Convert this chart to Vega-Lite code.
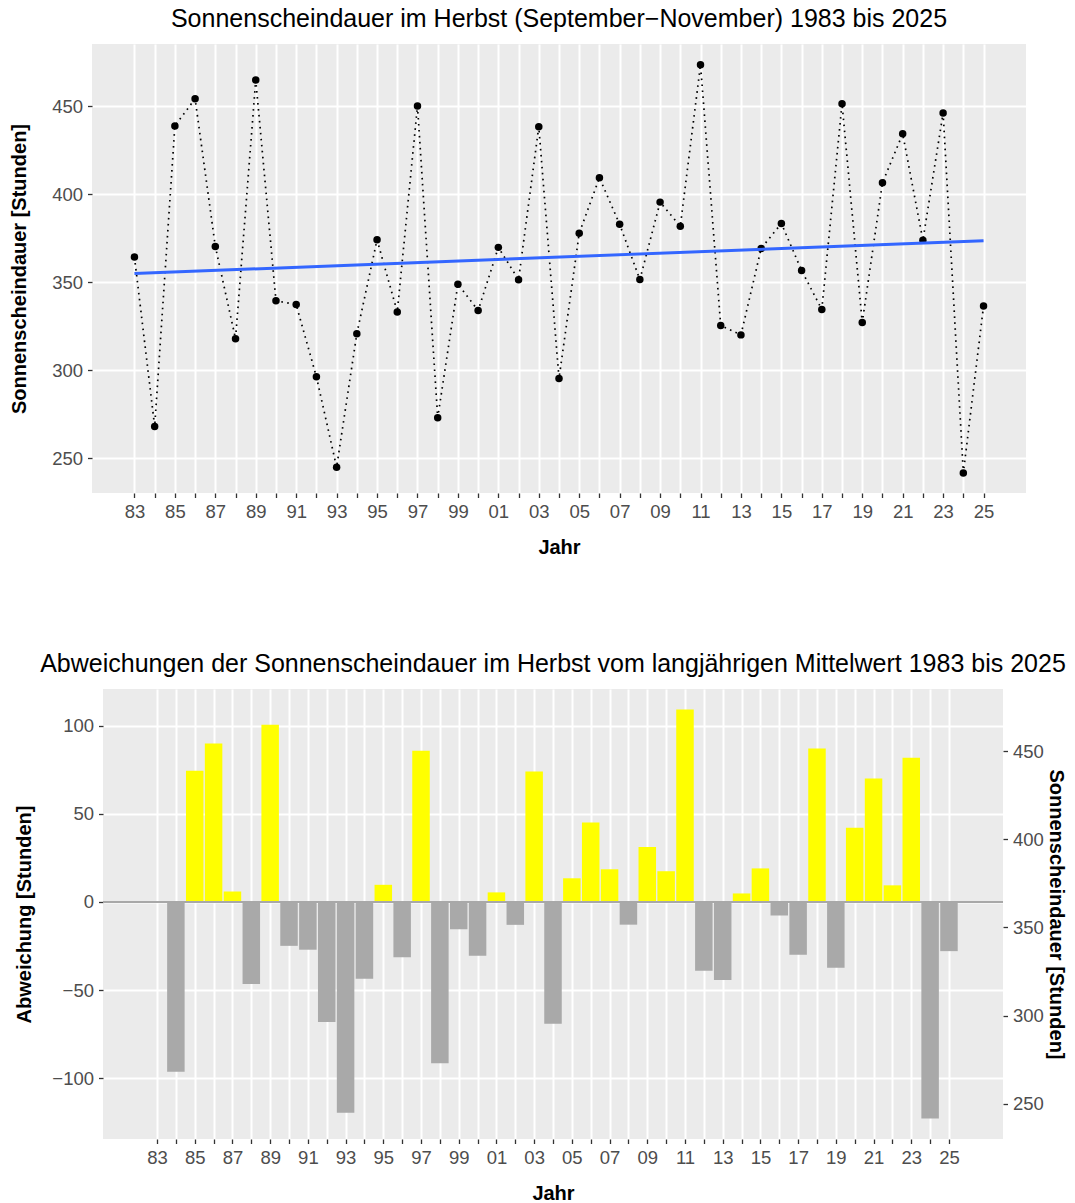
{
  "$schema": "https://vega.github.io/schema/vega-lite/v6.json",
  "padding": {"left": 9, "top": 7, "right": 0, "bottom": 5},
  "background": "white",
  "config": {
    "font": "Liberation Sans",
    "view": {"fill": "#EBEBEB", "stroke": null},
    "title": {"font": "Liberation Sans", "fontSize": 25, "fontWeight": "normal", "color": "black", "anchor": "middle", "offset": 12},
    "axis": {
      "labelFont": "Liberation Sans", "labelFontSize": 18.5, "labelColor": "#4D4D4D",
      "titleFont": "Liberation Sans", "titleFontSize": 20, "titleFontWeight": "bold", "titleColor": "black",
      "tickColor": "#333333", "tickSize": 4.5, "tickWidth": 1.3, "domain": false,
      "gridColor": "white", "gridWidth": 2, "labelPadding": 5
    }
  },
  "data": {"values": [
    {"Jahr": 1983, "Stunden": 364.4, "Abweichung": -0.1},
    {"Jahr": 1984, "Stunden": 268.2, "Abweichung": -96.3},
    {"Jahr": 1985, "Stunden": 438.9, "Abweichung": 74.4},
    {"Jahr": 1986, "Stunden": 454.3, "Abweichung": 89.8},
    {"Jahr": 1987, "Stunden": 370.4, "Abweichung": 5.9},
    {"Jahr": 1988, "Stunden": 318.0, "Abweichung": -46.5},
    {"Jahr": 1989, "Stunden": 465.0, "Abweichung": 100.5},
    {"Jahr": 1990, "Stunden": 339.6, "Abweichung": -24.9},
    {"Jahr": 1991, "Stunden": 337.4, "Abweichung": -27.1},
    {"Jahr": 1992, "Stunden": 296.4, "Abweichung": -68.1},
    {"Jahr": 1993, "Stunden": 245.0, "Abweichung": -119.5},
    {"Jahr": 1994, "Stunden": 320.9, "Abweichung": -43.6},
    {"Jahr": 1995, "Stunden": 374.2, "Abweichung": 9.7},
    {"Jahr": 1996, "Stunden": 333.2, "Abweichung": -31.3},
    {"Jahr": 1997, "Stunden": 450.2, "Abweichung": 85.7},
    {"Jahr": 1998, "Stunden": 273.1, "Abweichung": -91.4},
    {"Jahr": 1999, "Stunden": 349.0, "Abweichung": -15.5},
    {"Jahr": 2000, "Stunden": 334.0, "Abweichung": -30.5},
    {"Jahr": 2001, "Stunden": 369.9, "Abweichung": 5.4},
    {"Jahr": 2002, "Stunden": 351.5, "Abweichung": -13.0},
    {"Jahr": 2003, "Stunden": 438.4, "Abweichung": 73.9},
    {"Jahr": 2004, "Stunden": 295.4, "Abweichung": -69.1},
    {"Jahr": 2005, "Stunden": 377.9, "Abweichung": 13.4},
    {"Jahr": 2006, "Stunden": 409.5, "Abweichung": 45.0},
    {"Jahr": 2007, "Stunden": 383.0, "Abweichung": 18.5},
    {"Jahr": 2008, "Stunden": 351.6, "Abweichung": -12.9},
    {"Jahr": 2009, "Stunden": 395.6, "Abweichung": 31.1},
    {"Jahr": 2010, "Stunden": 381.9, "Abweichung": 17.4},
    {"Jahr": 2011, "Stunden": 473.6, "Abweichung": 109.1},
    {"Jahr": 2012, "Stunden": 325.5, "Abweichung": -39.0},
    {"Jahr": 2013, "Stunden": 320.2, "Abweichung": -44.3},
    {"Jahr": 2014, "Stunden": 369.3, "Abweichung": 4.8},
    {"Jahr": 2015, "Stunden": 383.5, "Abweichung": 19.0},
    {"Jahr": 2016, "Stunden": 356.8, "Abweichung": -7.7},
    {"Jahr": 2017, "Stunden": 334.6, "Abweichung": -29.9},
    {"Jahr": 2018, "Stunden": 451.5, "Abweichung": 87.0},
    {"Jahr": 2019, "Stunden": 327.2, "Abweichung": -37.3},
    {"Jahr": 2020, "Stunden": 406.6, "Abweichung": 42.1},
    {"Jahr": 2021, "Stunden": 434.4, "Abweichung": 69.9},
    {"Jahr": 2022, "Stunden": 373.9, "Abweichung": 9.4},
    {"Jahr": 2023, "Stunden": 446.2, "Abweichung": 81.7},
    {"Jahr": 2024, "Stunden": 241.7, "Abweichung": -122.8},
    {"Jahr": 2025, "Stunden": 336.6, "Abweichung": -27.9}
  ]},
  "vconcat": [
    {"hconcat": [
      {
        "width": 934,
        "height": 449,
        "title": {"text": "Sonnenscheindauer im Herbst (September\u2212November) 1983 bis 2025"},
        "encoding": {
          "x": {
            "field": "Jahr", "type": "quantitative",
            "scale": {"domain": [1980.9, 2027.1], "nice": false, "zero": false},
            "axis": {
              "title": "Jahr", "titlePadding": 16,
              "values": [1983,1984,1985,1986,1987,1988,1989,1990,1991,1992,1993,1994,1995,1996,1997,1998,1999,2000,2001,2002,2003,2004,2005,2006,2007,2008,2009,2010,2011,2012,2013,2014,2015,2016,2017,2018,2019,2020,2021,2022,2023,2024,2025],
              "labelExpr": "datum.value % 2 == 1 ? substring(toString(datum.value), 2, 4) : ''",
              "labelOverlap": false, "labelFlush": false, "labelBound": false
            }
          },
          "y": {
            "field": "Stunden", "type": "quantitative",
            "scale": {"domain": [230.4, 485.4], "nice": false, "zero": false},
            "axis": {"title": "Sonnenscheindauer [Stunden]", "values": [250, 300, 350, 400, 450], "titlePadding": 22}
          }
        },
        "layer": [
          {"mark": {"type": "line", "color": "black", "strokeWidth": 1.7, "strokeDash": [1.6, 4.4]}},
          {"mark": {"type": "point", "filled": true, "color": "black", "size": 56, "opacity": 1}},
          {
            "transform": [{"regression": "Stunden", "on": "Jahr", "extent": [1983, 2025]}],
            "mark": {"type": "line", "color": "#3366FF", "strokeWidth": 3}
          }
        ]
      }
    ]},
    {"hconcat": [
      {
        "width": 1,
        "height": 1,
        "view": {"fill": null, "stroke": null},
        "mark": {"type": "point", "opacity": 0},
        "encoding": {}
      },
      {
        "width": 900,
        "height": 450,
        "title": {"text": "Abweichungen der Sonnenscheindauer im Herbst vom langj\u00e4hrigen Mittelwert 1983 bis 2025"},
        "encoding": {
          "x": {
            "field": "Jahr", "type": "quantitative",
            "scale": {"domain": [1980.4, 2027.6], "nice": false, "zero": false},
            "axis": {
              "title": "Jahr", "titlePadding": 16,
              "values": [1983,1984,1985,1986,1987,1988,1989,1990,1991,1992,1993,1994,1995,1996,1997,1998,1999,2000,2001,2002,2003,2004,2005,2006,2007,2008,2009,2010,2011,2012,2013,2014,2015,2016,2017,2018,2019,2020,2021,2022,2023,2024,2025],
              "labelExpr": "datum.value % 2 == 1 ? substring(toString(datum.value), 2, 4) : ''",
              "labelOverlap": false, "labelFlush": false, "labelBound": false
            }
          }
        },
        "layer": [
          {
            "encoding": {
              "y": {
                "field": "Abweichung", "type": "quantitative",
                "scale": {"domain": [-134.4, 120.7], "nice": false},
                "axis": {"title": "Abweichung [Stunden]", "values": [-100, -50, 0, 50, 100], "titlePadding": 17, "orient": "left"}
              }
            },
            "layer": [
              {
                "mark": {"type": "bar", "size": 17.5},
                "encoding": {
                  "color": {"condition": {"test": "datum.Abweichung > 0", "value": "#FFFF00"}, "value": "#A9A9A9"}
                }
              },
              {
                "mark": {"type": "rule", "color": "#A9A9A9", "strokeWidth": 1.5},
                "encoding": {"y": {"datum": 0, "type": "quantitative"}, "x": {"value": 0}, "x2": {"value": 900}}
              }
            ]
          },
          {
            "mark": {"type": "point", "opacity": 0},
            "encoding": {
              "y": {
                "field": "Stunden", "type": "quantitative",
                "scale": {"domain": [230.1, 485.2], "nice": false, "zero": false},
                "axis": {"title": "Sonnenscheindauer [Stunden]", "orient": "right", "values": [250, 300, 350, 400, 450], "grid": false, "titlePadding": 2}
              }
            }
          }
        ],
        "resolve": {"scale": {"y": "independent"}, "axis": {"y": "independent"}}
      }
    ], "spacing": -82}
  ],
  "spacing": 95
}
